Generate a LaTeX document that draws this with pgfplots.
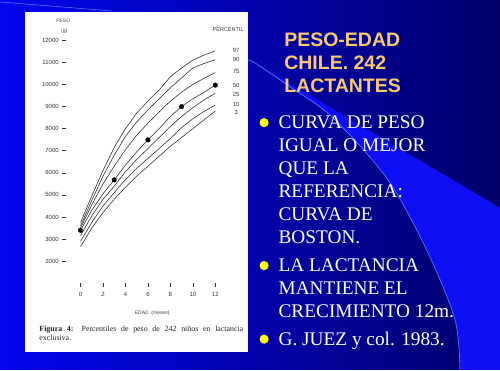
\documentclass[border=0pt]{standalone}
\usepackage{pgfplots}
\pgfplotsset{compat=1.18}
\usepackage{fontspec}
\setmainfont{Liberation Serif}
\setsansfont{Liberation Sans}
\definecolor{bgL}{RGB}{5,5,240}
\definecolor{bgM}{RGB}{0,0,190}
\definecolor{bgR}{RGB}{0,0,105}
\definecolor{swoosh}{RGB}{15,15,245}
\definecolor{arcC}{RGB}{90,130,255}
\definecolor{titleC}{RGB}{250,200,110}
\definecolor{bul}{RGB}{255,255,0}
\begin{document}
\begin{tikzpicture}
\begin{scope}[x=1pt,y=1pt]
\shade[left color=bgL, middle color=bgM, right color=bgR] (0,0) rectangle (500,370);
\fill[swoosh] plot[smooth] coordinates {(460,0) (455,50) (428,117) (388,190) (332,253) (290,283) (255,307)} -- (500,162) -- (500,0) -- cycle;
\draw[arcC, line width=0.6pt] plot[smooth] coordinates {(248,310) (255,307) (290,283) (332,253) (388,190) (428,117) (455,50) (460,0)};
\draw[arcC, line width=0.5pt] (0,368) -- (112,359);
\fill[white] (25,18) rectangle (248,358);
% texts around the chart
\node[font=\sffamily\fontsize{5}{6}\selectfont, text=black!70] at (63,349.3) {PESO};
\node[font=\sffamily\fontsize{5}{6}\selectfont, text=black!70] at (64,339) {(g)};
\node[font=\sffamily\fontsize{5.5}{6}\selectfont, text=black!80] at (228,340.7) {PERCENTIL};
\node[font=\sffamily\fontsize{5}{6}\selectfont, text=black!75] at (152,57) {EDAD \ (meses)};
\node[anchor=base west, inner sep=0pt, text width=204pt, align=justify, font=\fontsize{7.9}{8.3}\selectfont, text=black!85] at (39,38) {\hyphenpenalty=10000 \textbf{Figura 4:} Percentiles de peso de 242 niños en lactancia\linebreak exclusiva.};
% title
\node[anchor=base west, inner sep=0pt, font=\sffamily\bfseries\fontsize{19.5}{23}\selectfont, text=titleC] at (284,323) {PESO-EDAD};
\node[anchor=base west, inner sep=0pt, font=\sffamily\bfseries\fontsize{19.5}{23}\selectfont, text=titleC] at (284,300) {CHILE. 242};
\node[anchor=base west, inner sep=0pt, font=\sffamily\bfseries\fontsize{19.5}{23}\selectfont, text=titleC] at (284,277.3) {LACTANTES};
% bullets
\fill[bul] (264,247.3) circle (4.6);
\fill[bul] (264,104.3) circle (4.6);
\fill[bul] (264,30.7) circle (4.6);
\foreach \yy/\txt in {241/{CURVA DE PESO}, 218.4/{IGUAL O MEJOR}, 195.4/{QUE LA}, 172/{REFERENCIA:}, 149.4/{CURVA DE}, 126.4/{BOSTON.}, 98/{LA LACTANCIA}, 75/{MANTIENE EL}, 52.4/{CRECIMIENTO 12m.}, 24.4/{G. JUEZ y col. 1983.}}
  \node[anchor=base west, inner sep=0pt, font=\fontsize{19.3}{23}\selectfont, text=white] at (278.3,\yy) {\txt};
\end{scope}
\begin{axis}[at={(62pt,83pt)}, anchor=south west, scale only axis,
  width=158.8pt, height=248.9pt,
  xmin=-1.63, xmax=12.5, ymin=837, ymax=12100,
  axis line style={draw=none}, clip=false,
  xtick={0,2,4,6,8,10,12}, ytick={2000,3000,...,12000},
  scaled y ticks=false,
  xtick pos=bottom, ytick pos=left,
  tick align=inside, major tick length=4pt,
  tick style={black!80, line width=0.5pt},
  tick label style={font=\sffamily\fontsize{6}{7}\selectfont, text=black!80},
  xticklabel style={yshift=-1.5pt},
  /pgf/number format/1000 sep={},
  /pgf/number format/assume math mode=true,
]
% P97
\addplot[black!85, line width=0.55pt] coordinates {(0,3750)(1,4950)(2,6100)(3,7150)(4,8000)(5,8700)(6,9250)(7,9750)(8,10350)(9,10750)(10,11100)(11,11330)(12,11520)};
% P90
\addplot[black!85, line width=0.55pt] coordinates {(0,3600)(1,4750)(2,5850)(3,6800)(4,7650)(5,8300)(6,8850)(7,9350)(8,9850)(9,10300)(10,10750)(11,10950)(12,11120)};
% P75
\addplot[black!85, line width=0.55pt] coordinates {(0,3500)(1,4550)(2,5500)(3,6300)(4,7050)(5,7700)(6,8250)(7,8750)(8,9250)(9,9650)(10,10000)(11,10280)(12,10540)};
% P50
\addplot[black!85, line width=0.55pt] coordinates {(0,3400)(1,4300)(2,5050)(3,5680)(4,6350)(5,6950)(6,7490)(7,8000)(8,8550)(9,9000)(10,9350)(11,9650)(12,9970)};
% P25
\addplot[black!85, line width=0.55pt] coordinates {(0,3150)(1,4050)(2,4800)(3,5400)(4,6050)(5,6600)(6,7100)(7,7600)(8,8100)(9,8550)(10,8950)(11,9300)(12,9600)};
% P10
\addplot[black!85, line width=0.55pt] coordinates {(0,2900)(1,3750)(2,4500)(3,5100)(4,5700)(5,6200)(6,6650)(7,7100)(8,7550)(9,8050)(10,8450)(11,8780)(12,9070)};
% P3
\addplot[black!85, line width=0.55pt] coordinates {(0,2650)(1,3500)(2,4200)(3,4800)(4,5350)(5,5850)(6,6300)(7,6750)(8,7200)(9,7600)(10,8000)(11,8400)(12,8800)};
% observed points
\addplot[only marks, mark=*, mark size=2.3pt, black] coordinates {(0,3400)(3,5680)(6,7490)(9,9000)(12,9970)};
% percentile labels
\node[font=\sffamily\fontsize{6}{7}\selectfont, text=black!80] at (axis cs:13.85,11530) {97};
\node[font=\sffamily\fontsize{6}{7}\selectfont, text=black!80] at (axis cs:13.85,11140) {90};
\node[font=\sffamily\fontsize{6}{7}\selectfont, text=black!80] at (axis cs:13.85,10579) {75};
\node[font=\sffamily\fontsize{6}{7}\selectfont, text=black!80] at (axis cs:13.85,9964) {50};
\node[font=\sffamily\fontsize{6}{7}\selectfont, text=black!80] at (axis cs:13.85,9538) {25};
\node[font=\sffamily\fontsize{6}{7}\selectfont, text=black!80] at (axis cs:13.85,9086) {10};
\node[font=\sffamily\fontsize{6}{7}\selectfont, text=black!80] at (axis cs:13.85,8742) {3};
\end{axis}
\end{tikzpicture}
\end{document}
